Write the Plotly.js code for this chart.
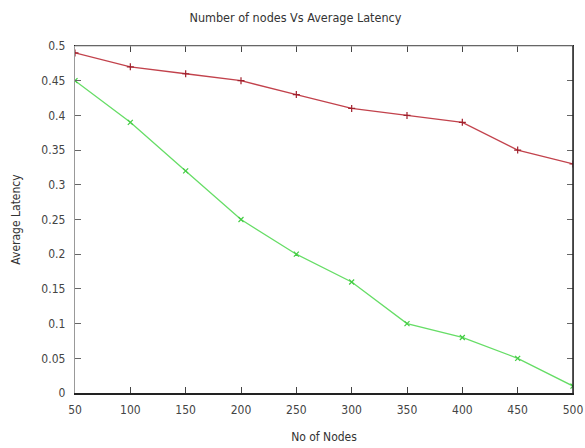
<!DOCTYPE html>
<html>
<head>
<meta charset="utf-8">
<script src="https://cdn.plot.ly/plotly-3.0.1.min.js"></script>
<style>html,body{margin:0;padding:0;background:#fff;}#chart{width:585px;height:448px;}</style>
</head>
<body>
<div id="chart"></div>
<script>
const nodes = [50, 100, 150, 200, 250, 300, 350, 400, 450, 500];
const seriesRed = [0.49, 0.47, 0.46, 0.45, 0.43, 0.41, 0.40, 0.39, 0.35, 0.33];
const seriesGreen = [0.45, 0.39, 0.32, 0.25, 0.20, 0.16, 0.10, 0.08, 0.05, 0.01];
const yTicks = [0, 0.05, 0.1, 0.15, 0.2, 0.25, 0.3, 0.35, 0.4, 0.45, 0.5];
const yTickLabels = ['0', '0.05', '0.1', '0.15', '0.2', '0.25', '0.3', '0.35', '0.4', '0.45', '0.5'];

const fontFam = '"Liberation Sans Narrow", "DejaVu Sans Condensed", "Liberation Sans", Arial, sans-serif';

const traces = [
  {
    x: nodes, y: seriesRed, type: 'scatter', mode: 'lines+markers',
    line: {color: '#c2424c', width: 1.3},
    marker: {symbol: 'cross-thin', size: 5, line: {color: '#a0202c', width: 1.2}},
    showlegend: false, hoverinfo: 'x+y'
  },
  {
    x: nodes, y: seriesGreen, type: 'scatter', mode: 'lines+markers',
    line: {color: '#66dd66', width: 1.3},
    marker: {symbol: 'x-thin', size: 5, line: {color: '#44cc44', width: 1.2}},
    showlegend: false, hoverinfo: 'x+y'
  }
];

const layout = {
  width: 585, height: 448,
  margin: {l: 75, r: 12, t: 46, b: 55},
  paper_bgcolor: '#fff', plot_bgcolor: '#fff',
  font: {family: fontFam, size: 12, color: '#333'},
  title: {text: 'Number of nodes Vs Average Latency', x: 0.505, xanchor: 'center', y: 0.96, yanchor: 'middle',
          font: {family: fontFam, size: 12.5, color: '#333'}},
  xaxis: {
    range: [50, 500], tickvals: nodes, ticktext: nodes.map(String),
    ticks: 'inside', ticklen: 6, tickcolor: '#444', tickwidth: 1,
    showline: true, linecolor: '#222', linewidth: 1.5, mirror: 'ticks',
    showgrid: false, zeroline: false, ticklabelstandoff: 5,
    tickfont: {family: fontFam, size: 12, color: '#444'},
    title: {text: 'No of Nodes', font: {family: fontFam, size: 12, color: '#333'}, standoff: 16}
  },
  yaxis: {
    range: [0, 0.5], tickvals: yTicks, ticktext: yTickLabels,
    ticks: 'inside', ticklen: 6, tickcolor: '#666', tickwidth: 1,
    showline: true, linecolor: '#999', linewidth: 1.2, mirror: 'ticks',
    showgrid: false, zeroline: false, ticklabelstandoff: 6,
    tickfont: {family: fontFam, size: 12, color: '#444'},
    title: {text: 'Average Latency', font: {family: fontFam, size: 12, color: '#333'}, standoff: 18}
  },
  shapes: [
    {type: 'line', xref: 'paper', yref: 'paper', x0: 0, x1: 1, y0: 1, y1: 1, line: {color: '#aaa', width: 1.2}, layer: 'above'},
    {type: 'line', xref: 'paper', yref: 'paper', x0: 1, x1: 1, y0: 0, y1: 1, line: {color: '#222', width: 1.5}, layer: 'above'}
  ]
};

Plotly.newPlot('chart', traces, layout, {displayModeBar: false, staticPlot: true});
</script>
</body>
</html>
